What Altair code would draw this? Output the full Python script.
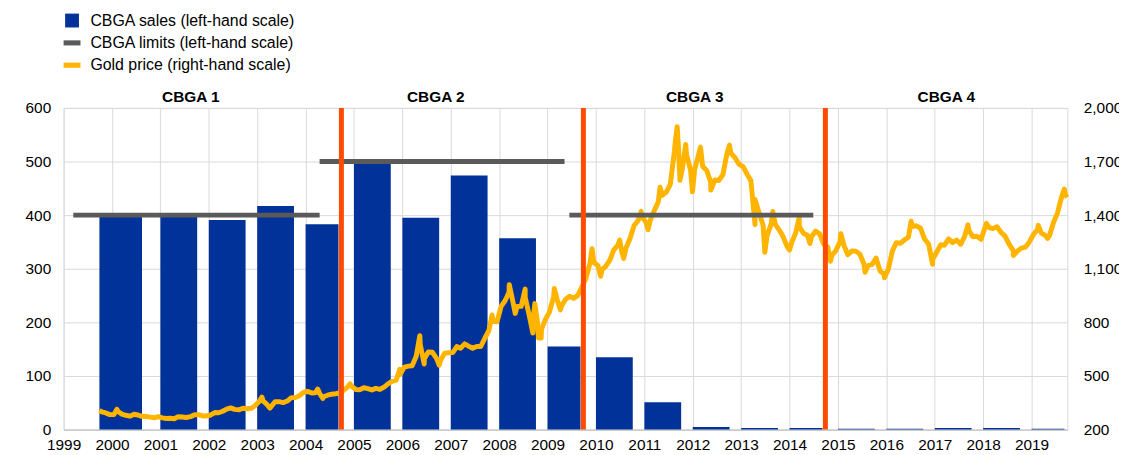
import altair as alt
import pandas as pd

# ---------------- data ----------------
sales_years = list(range(2000, 2020))
sales_tonnes = [400, 399, 391, 417, 383, 499, 395, 474, 357, 155,
                135, 51, 5, 3, 3, 1.5, 1.5, 3, 3, 1.5]

cbga_names = ["CBGA 1", "CBGA 2", "CBGA 3", "CBGA 4"]
cbga_start = [1999.74, 2004.74, 2009.74, 2014.74]
cbga_end_of_axis = 2019.74
cbga_label_x = [2001.63, 2006.69, 2012.04, 2017.24]

limit_values = [400, 500, 400]
limit_from = [1999.2, 2004.29, 2009.45]
limit_to = [2004.29, 2009.35, 2014.49]

# monthly gold price (USD/oz), Oct 1999 - Sep 2019
gold_first_month = "1999-10"
gold_monthly = [
    299.5, 293.2, 283.7,
    284.6, 300.9, 286.4, 280.0, 275.3, 285.7, 281.6, 274.5, 273.7, 270.0, 266.0, 272.0,
    265.5, 261.9, 263.0, 260.5, 272.4, 270.2, 267.5, 272.4, 283.4, 283.1, 276.2, 275.9,
    281.7, 295.5, 294.0, 302.7, 314.5, 321.2, 313.3, 310.3, 319.2, 316.6, 319.2, 333.4,
    356.9, 359.0, 340.6, 328.2, 355.7, 356.4, 351.0, 359.8, 378.9, 378.9, 389.9, 407.6,
    414.0, 405.3, 406.7, 403.0, 383.8, 392.4, 398.1, 400.5, 405.3, 420.5, 439.4, 442.1,
    424.0, 423.4, 434.2, 429.2, 421.9, 430.7, 424.5, 437.9, 456.0, 469.9, 476.7, 509.8,
    549.9, 555.0, 557.1, 610.6, 676.5, 596.2, 633.8, 632.6, 598.2, 585.8, 627.8, 629.8,
    631.2, 664.8, 654.9, 679.4, 666.9, 655.5, 665.3, 665.4, 712.7, 754.6, 806.3, 803.2,
    889.6, 922.3, 968.4, 909.7, 888.7, 889.5, 939.8, 839.0, 829.9, 806.6, 760.9, 816.1,
    858.7, 943.0, 924.3, 890.2, 928.6, 945.7, 934.2, 949.4, 996.6, 1043.2, 1127.0, 1134.7,
    1118.0, 1095.4, 1113.3, 1148.7, 1205.4, 1232.9, 1193.0, 1215.8, 1271.0, 1342.0, 1369.9, 1390.6,
    1356.4, 1372.7, 1424.0, 1473.8, 1510.4, 1528.7, 1572.8, 1755.8, 1771.9, 1665.2, 1739.0, 1652.3,
    1656.1, 1742.6, 1673.8, 1650.1, 1585.5, 1596.7, 1593.9, 1626.0, 1744.5, 1746.6, 1721.6, 1684.8,
    1671.9, 1627.6, 1593.1, 1487.9, 1414.0, 1343.4, 1285.5, 1351.7, 1348.6, 1316.6, 1275.9, 1221.5,
    1244.3, 1299.6, 1336.1, 1299.0, 1287.5, 1279.1, 1310.6, 1295.1, 1236.6, 1222.5, 1175.3, 1200.6,
    1249.3, 1231.1, 1178.6, 1198.9, 1198.6, 1181.5, 1128.3, 1117.9, 1124.6, 1159.3, 1086.4, 1068.3,
    1097.9, 1199.5, 1245.1, 1242.3, 1260.9, 1276.4, 1336.7, 1340.2, 1326.6, 1266.6, 1238.4, 1151.4,
    1192.1, 1234.2, 1231.4, 1266.9, 1246.0, 1260.3, 1236.8, 1283.0, 1314.1, 1279.5, 1281.9, 1264.5,
    1331.3, 1330.7, 1324.7, 1334.8, 1303.5, 1281.6, 1237.7, 1201.7, 1198.4, 1215.4, 1220.7, 1250.4,
    1291.8, 1320.1, 1300.9, 1285.9, 1283.7, 1359.0, 1412.9, 1500.4, 1510.6,
]
# intra-month highs / lows visible on the daily line
gold_extra_dates = [
    "1999-09-28", "2000-02-07", "2003-02-05", "2003-04-07", "2004-04-01", "2004-05-10",
    "2004-12-02", "2005-12-12", "2006-05-12", "2006-06-14", "2006-10-05", "2007-11-08",
    "2008-03-17", "2008-05-01", "2008-07-15", "2008-09-11", "2008-09-26", "2008-10-24",
    "2008-11-13", "2009-02-20", "2009-04-07", "2009-12-02", "2010-02-05", "2010-06-28",
    "2010-07-28", "2010-12-07", "2011-01-28", "2011-04-29", "2011-08-22", "2011-09-05",
    "2011-09-26", "2011-11-08", "2011-12-29", "2012-02-28", "2012-05-16", "2012-10-04",
    "2013-04-15", "2013-06-28", "2013-08-27", "2013-12-31", "2014-03-14", "2014-06-03",
    "2014-11-05", "2015-01-22", "2015-07-24", "2015-12-17", "2016-07-06", "2016-12-15",
    "2017-09-08", "2018-01-25", "2018-08-16", "2019-02-20", "2019-05-02", "2019-09-04",
    "2019-09-27",
]
gold_extra_values = [
    307, 313, 382, 320, 427, 375,
    456, 537, 725, 567, 561, 841,
    1011, 850, 986, 740, 905, 712,
    712, 989, 870, 1212, 1058, 1261,
    1158, 1421, 1319, 1556, 1813, 1895,
    1595, 1795, 1531, 1781, 1540, 1792,
    1348, 1192, 1420, 1205, 1385, 1241,
    1142, 1296, 1080, 1049, 1366, 1125,
    1346, 1354, 1174, 1343, 1270, 1546,
    1500,
]

legend_names = ["CBGA sales (left-hand scale)", "CBGA limits (left-hand scale)",
                "Gold price (right-hand scale)"]

BLUE = "#003299"
GREY = "#5a5a5a"
GOLD = "#FFB400"
RED = "#FF4B00"
FONT = "Liberation Sans"

# ---------------- tables ----------------
def dec_year(ts):
    ts = pd.Timestamp(ts)
    days = 366 if ts.is_leap_year else 365
    return ts.year + (ts.dayofyear - 0.5) / days

boundaries = cbga_start[1:] + [cbga_end_of_axis]
bar_rows = []
for yr, val in zip(sales_years, sales_tonnes):
    if yr - 1 < cbga_start[0] < yr:
        start, end = cbga_start[0], yr + 0.62   # first sales year begins with CBGA 1
    else:
        nxt = min(b for b in boundaries if b > yr)
        start, end = yr, min(yr + 0.76, nxt - 0.06)
    bar_rows.append({"start": start, "end": end, "tonnes": val})
bars_df = pd.DataFrame(bar_rows)

months = pd.date_range(gold_first_month, periods=len(gold_monthly), freq="MS") + pd.Timedelta(days=14)
gold_df = pd.DataFrame({
    "t": [dec_year(d) for d in months] + [dec_year(d) for d in gold_extra_dates],
    "price": gold_monthly + gold_extra_values,
}).sort_values("t")

limits_df = pd.DataFrame({"from": limit_from, "to": limit_to, "limit": limit_values})
vlines_df = pd.DataFrame({"t": cbga_start[1:]})
labels_df = pd.DataFrame({"x": cbga_label_x, "name": cbga_names})
legend_df = pd.DataFrame({"series": legend_names})

# ---------------- chart ----------------
xscale = alt.Scale(domain=[1999, cbga_end_of_axis], nice=False, zero=False)
xaxis = alt.Axis(values=list(range(1999, 2020)), format="d", title=None, grid=True,
                 gridColor="#d9d9d9", ticks=False, labelPadding=8, domainColor="#bfbfbf",
                 labelFlush=False, labelOverlap=False)
left_scale = alt.Scale(domain=[0, 600], nice=False)
left_axis = alt.Axis(values=list(range(0, 700, 100)), title=None, grid=True, gridColor="#d9d9d9",
                     ticks=False, domain=False, labelPadding=13)
right_axis = alt.Axis(values=list(range(200, 2300, 300)),
                      labelExpr="format(datum.value, ',.0f')", title=None, grid=False,
                      ticks=False, domain=False, orient="right", labelPadding=16)

bars = alt.Chart(bars_df).mark_bar(color=BLUE).encode(
    x=alt.X("start:Q", scale=xscale, axis=xaxis),
    x2="end:Q",
    y=alt.Y("tonnes:Q", scale=left_scale, axis=left_axis),
    y2=alt.datum(0),
)

gold = alt.Chart(gold_df).mark_line(color=GOLD, strokeWidth=5, strokeJoin="round").encode(
    x=alt.X("t:Q", scale=xscale, axis=xaxis),
    y=alt.Y("price:Q", scale=alt.Scale(domain=[200, 2000], nice=False, zero=False), axis=right_axis),
    order="t:Q",
)

limits = alt.Chart(limits_df).mark_rule(color=GREY, strokeWidth=5).encode(
    x=alt.X("from:Q", scale=xscale, axis=xaxis),
    x2="to:Q",
    y=alt.Y("limit:Q", scale=left_scale, axis=None),
)

vlines = alt.Chart(vlines_df).mark_rule(color=RED, strokeWidth=5).encode(
    x=alt.X("t:Q", scale=xscale, axis=xaxis),
)

labels = alt.Chart(labels_df).mark_text(font=FONT, fontSize=15.5, fontWeight="bold",
                                        color="#000000", baseline="alphabetic").encode(
    x=alt.X("x:Q", scale=xscale, axis=xaxis),
    y=alt.value(-6),
    text="name:N",
)

square = "M-0.82,-0.82H0.82V0.82H-0.82Z"
dash = "M-1,-0.3H1V0.3H-1Z"
legend = alt.Legend(title=None, orient="none", legendX=0, legendY=-96.5, symbolSize=289,
                    labelFont=FONT, labelFontSize=16, labelColor="#000000", labelOffset=10,
                    labelLimit=0, rowPadding=5.5, padding=0, symbolOpacity=1,
                    symbolStrokeWidth=0)
legend_layer = alt.Chart(legend_df).mark_point(filled=True, opacity=0).encode(
    color=alt.Color("series:N", scale=alt.Scale(domain=legend_names, range=[BLUE, GREY, GOLD]),
                    legend=legend),
    shape=alt.Shape("series:N", scale=alt.Scale(domain=legend_names, range=[square, dash, dash]),
                    legend=legend),
)

chart = alt.layer(bars, gold, limits, vlines, labels, legend_layer).resolve_scale(
    y="independent"
).properties(
    width=1011, height=324,
    autosize=alt.AutoSizeParams(type="none"),
    padding={"left": 56, "top": 99, "right": 52, "bottom": 30},
).configure_view(stroke="#d9d9d9").configure_axis(
    labelFont=FONT, labelFontSize=15.5, labelColor="#000000"
)

chart.save("out.html", embed_options={"renderer": "svg", "actions": False})
